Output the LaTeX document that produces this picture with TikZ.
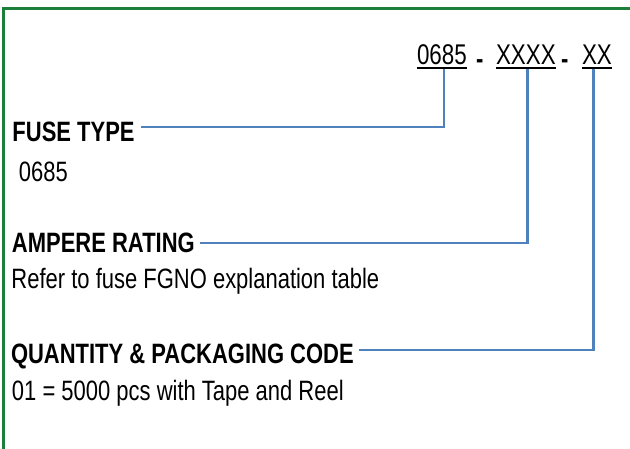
\documentclass[tikz,border=0pt]{standalone}
\usepackage{fontspec}
\setmainfont{Liberation Sans}[FakeStretch=0.785]
\definecolor{frame}{RGB}{28,128,58}
\definecolor{conn}{RGB}{79,129,189}
\begin{document}
\begin{tikzpicture}[x=1pt,y=-1pt,
  lbl/.style={inner sep=0pt,outer sep=0pt,anchor=base west,font=\fontsize{28}{30}\selectfont\bfseries},
  desc/.style={inner sep=0pt,outer sep=0pt,anchor=base west,font=\fontsize{28}{30}\selectfont},
  code/.style={inner sep=0pt,outer sep=0pt,anchor=base west,font=\fontsize{28.5}{31}\selectfont},
  dashsym/.style={inner sep=0pt,outer sep=0pt,anchor=base west,font=\fontsize{28}{30}\selectfont\bfseries},
  connline/.style={draw=conn,line width=2.6pt},
  uline/.style={draw=black,line width=2.4pt},
  border/.style={draw=frame,line width=3pt}]
\useasboundingbox (0,0) rectangle (630,448);
\fill[white] (0,0) rectangle (630,448);
\draw[border] (3.5,450) -- (3.5,8.7) -- (632,8.7);

% part number
\node[code] (c1) at (417,64) {0685};
\node[dashsym] (d1) at (476,68) {-};
\node[code] (c2) at (496,64) {XXXX};
\node[dashsym] (d2) at (561,68) {-};
\node[code] (c3) at (582,64) {XX};
\draw[uline] ([yshift=-3.7pt]c1.base west) -- ([yshift=-3.7pt]c1.base east);
\draw[uline] ([yshift=-3.7pt]c2.base west) -- ([yshift=-3.7pt]c2.base east);
\draw[uline] ([yshift=-3.7pt]c3.base west) -- ([yshift=-3.7pt]c3.base east);

% labels
\node[lbl] (ft) at (12.5,141) {FUSE TYPE};
\node[desc] (ftd) at (19,181) {0685};
\node[lbl] (ar) at (12,252) {AMPERE RATING};
\node[desc] (ard) at (11.5,288) {Refer to fuse FGNO explanation table};
\node[lbl] (qp) at (11,363) {QUANTITY \& PACKAGING CODE};
\node[desc] (qpd) at (12,400) {01 = 5000 pcs with Tape and Reel};

% connectors
\draw[connline] ([xshift=2pt,yshift=-5pt]c1.base) |- ([shift={(6pt,14pt)}]ft.base east);
\draw[connline] ([xshift=1.5pt,yshift=-5pt]c2.base) |- ([shift={(5pt,9pt)}]ar.base east);
\draw[connline] ([xshift=-3.5pt,yshift=-5pt]c3.base) |- ([shift={(5pt,13pt)}]qp.base east);
\end{tikzpicture}
\end{document}
